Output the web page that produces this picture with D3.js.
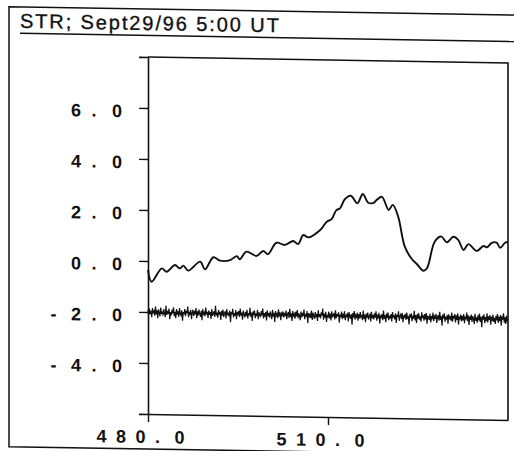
<!DOCTYPE html>
<html>
<head>
<meta charset="utf-8">
<script src="https://cdn.jsdelivr.net/npm/d3@7"></script>
<style>
body { margin: 0; background: #fff; }
text { font-family: "Liberation Sans", Arial, Helvetica, sans-serif; fill: #111; }
</style>
</head>
<body>
<script>
var titleText = "STR; Sept29/96 5:00 UT";

var xTicks = [480, 510];
var xTickLabels = ["480.0", "510.0"];
var yTicks = [-4, -2, 0, 2, 4, 6];
var yTickLabels = ["-4.0", "-2.0", "0.0", "2.0", "4.0", "6.0"];

// upper trace
var sigX = [480.0, 480.6, 482.3, 483.1, 484.5, 485.3, 485.9, 486.7, 488.7, 489.5,
            490.9, 492.0, 493.7, 494.8, 495.3, 496.4, 498.1, 499.2, 500.0, 501.4,
            502.8, 504.2, 505.0, 505.9, 506.7, 508.7, 509.8, 510.6, 511.4, 512.0,
            512.8, 513.8, 514.9, 515.8, 516.7, 517.6, 518.1, 519.0, 520.1, 520.8,
            521.7, 522.8, 524.0, 524.8, 525.9, 526.5, 527.8, 528.9, 529.8, 530.9,
            531.7, 532.6, 533.4, 534.8, 535.9, 536.5, 537.3, 538.1, 538.7, 539.5, 540.0];
var sigY = [-0.35, -0.81, -0.28, -0.41, -0.14, -0.27, -0.16, -0.35, 0.01, -0.29,
            0.19, 0.06, 0.09, 0.25, 0.13, 0.43, 0.27, 0.47, 0.35, 0.80,
            0.72, 0.88, 0.76, 1.12, 1.03, 1.33, 1.66, 1.76, 2.12, 2.19,
            2.55, 2.69, 2.40, 2.77, 2.43, 2.43, 2.54, 2.67, 2.16, 2.36,
            1.90, 0.73, 0.24, 0.06, -0.20, -0.10, 0.95, 1.15, 0.93, 1.15,
            1.03, 0.64, 0.87, 0.61, 0.81, 0.76, 0.94, 0.95, 0.75, 0.95, 0.98];

// lower noisy trace, sampled every 0.125 from 480
var noiseStart = 480, noiseStep = 0.125;
var noiseY = [
 -1.92,-2.11,-1.86,-2.08,-1.95,-2.20,-1.84,-2.05,-1.97,-2.14,-1.78,-2.09,-1.93,-2.24,-1.89,-2.03,-2.16,-1.82,-2.07,-1.96,
 -2.13,-1.88,-2.02,-2.19,-1.74,-2.10,-1.94,-2.06,-1.85,-2.27,-1.99,-2.12,-1.90,-2.04,-1.80,-2.15,-1.97,-2.22,-1.87,-2.08,
 -1.95,-2.17,-1.83,-2.05,-2.11,-1.91,-2.32,-1.98,-2.07,-1.86,-2.14,-1.93,-2.03,-1.76,-2.18,-1.96,-2.09,-1.89,-2.25,-2.00,
 -1.88,-2.12,-1.97,-2.06,-1.81,-2.21,-1.94,-2.10,-1.87,-2.04,-2.16,-1.92,-2.29,-1.85,-2.08,-1.99,-2.13,-1.79,-2.06,-1.95,
 -2.19,-1.90,-2.07,-1.96,-2.23,-1.84,-2.11,-2.01,-1.93,-2.15,-1.71,-2.09,-1.98,-2.18,-1.88,-2.05,-1.95,-2.26,-1.91,-2.10,
 -1.86,-2.14,-2.00,-1.92,-2.20,-1.83,-2.07,-1.97,-2.12,-1.89,-2.35,-1.95,-2.04,-1.82,-2.16,-1.99,-2.09,-1.87,-2.22,-1.94,
 -2.06,-1.90,-2.13,-1.80,-2.08,-1.96,-2.24,-1.88,-2.03,-2.15,-1.93,-2.10,-1.85,-2.19,-1.98,-2.07,-1.77,-2.12,-1.95,-2.28,
 -1.91,-2.05,-1.87,-2.17,-1.99,-2.09,-1.84,-2.21,-1.94,-2.02,-2.13,-1.89,-2.06,-1.79,-2.18,-1.97,-2.11,-1.92,-2.25,-1.86,
 -2.08,-1.96,-2.14,-1.90,-2.03,-2.20,-1.83,-2.10,-1.95,-2.31,-1.88,-2.06,-1.99,-2.16,-1.81,-2.09,-1.93,-2.23,-1.97,-2.04,
 -1.89,-2.12,-1.94,-2.07,-1.85,-2.19,-2.00,-1.91,-2.14,-1.78,-2.10,-1.96,-2.26,-1.87,-2.05,-1.98,-2.17,-1.90,-2.08,-1.83,
 -2.15,-1.95,-2.04,-2.22,-1.88,-2.11,-1.93,-2.06,-1.80,-2.18,-1.97,-2.09,-1.86,-2.33,-1.94,-2.07,-1.99,-2.13,-1.84,-2.20,
 -1.92,-2.05,-2.16,-1.89,-2.10,-1.96,-2.24,-1.82,-2.08,-1.97,-2.14,-1.90,-2.03,-1.75,-2.19,-1.95,-2.11,-1.88,-2.27,-1.99,
 -2.06,-1.87,-2.13,-1.94,-2.21,-1.85,-2.09,-2.01,-1.92,-2.17,-1.81,-2.12,-1.96,-2.05,-1.89,-2.29,-1.97,-2.08,-1.86,-2.15,
 -1.93,-2.10,-1.84,-2.19,-1.98,-2.07,-1.90,-2.24,-1.87,-2.04,-2.14,-1.95,-2.36,-1.91,-2.09,-1.83,-2.16,-1.99,-2.06,-1.89,
 -2.20,-1.94,-2.11,-1.86,-2.05,-1.97,-2.18,-1.80,-2.13,-1.96,-2.26,-1.92,-2.08,-1.88,-2.15,-2.01,-1.95,-2.22,-1.85,-2.10,
 -1.97,-2.14,-1.90,-2.07,-1.82,-2.19,-1.95,-2.10,-1.88,-2.30,-1.98,-2.05,-1.93,-2.17,-1.79,-2.12,-1.96,-2.24,-1.91,-2.08,
 -1.86,-2.16,-1.99,-2.09,-1.92,-2.21,-1.84,-2.06,-1.97,-2.13,-1.89,-2.27,-1.95,-2.03,-1.81,-2.18,-2.00,-1.93,-2.11,-1.87,
 -2.23,-1.96,-2.07,-1.90,-2.14,-1.85,-2.10,-1.98,-2.32,-1.92,-2.05,-1.88,-2.19,-1.97,-2.09,-1.78,-2.15,-1.94,-2.25,-1.91,
 -2.08,-1.87,-2.12,-1.99,-2.20,-1.83,-2.06,-1.95,-2.16,-1.90,-2.11,-1.86,-2.28,-1.96,-2.04,-2.13,-1.89,-2.22,-1.97,-2.10,
 -1.84,-2.17,-1.94,-2.08,-1.88,-2.24,-2.01,-1.93,-2.15,-1.80,-2.12,-1.97,-2.34,-1.91,-2.07,-1.86,-2.19,-1.99,-2.10,-1.92,
 -2.26,-1.89,-2.09,-1.96,-2.14,-1.82,-2.18,-1.95,-2.06,-1.88,-2.21,-1.93,-2.11,-1.85,-2.29,-1.98,-2.05,-1.90,-2.16,-1.94,
 -2.12,-1.87,-2.23,-1.97,-2.08,-1.81,-2.15,-1.92,-2.30,-1.96,-2.10,-1.89,-2.18,-1.95,-2.04,-2.25,-1.86,-2.13,-1.99,-2.20,
 -1.91,-2.11,-1.84,-2.17,-1.97,-2.38,-1.93,-2.08,-1.87,-2.22,-1.98,-2.14,-1.83,-2.19,-1.95,-2.09,-1.90,-2.27,-1.96,-2.12,
 -1.88,-2.16,-2.00,-2.24,-1.92,-2.10,-1.85,-2.20,-1.96,-2.13,-1.89,-2.31,-1.94,-2.07,-1.82,-2.18,-1.97,-2.23,-1.91,-2.11,-2.04
];

var width = 514, height = 451;
var plot = {left: 148, top: 57, right: 508, bottom: 414};

var svg = d3.select("body").append("svg")
    .attr("width", width)
    .attr("height", height);

// the scanned page is a little skewed, pivot on the y axis
var skew = 0.0167;
var g = svg.append("g")
    .attr("transform", "matrix(1," + skew + ",0,1,0," + (-skew * plot.left) + ")");

// outer box + title rule
g.append("path")
    .attr("d", "M540,9H9V449H540")
    .attr("fill", "none").attr("stroke", "#111").attr("stroke-width", 1.5);
g.append("line")
    .attr("x1", 20).attr("x2", 540).attr("y1", 35.5).attr("y2", 35.5)
    .attr("stroke", "#111").attr("stroke-width", 1.5);
g.append("text")
    .attr("x", 20).attr("y", 30)
    .attr("font-size", 20)
    .attr("letter-spacing", 1.9)
    .attr("stroke", "#111").attr("stroke-width", 0.35)
    .text(titleText);

var x = d3.scaleLinear().domain([480, 540]).range([plot.left, plot.right]);
var y = d3.scaleLinear().domain([-6, 8]).range([plot.bottom, plot.top]);

// top and right of the frame
g.append("path")
    .attr("d", "M" + x(480) + "," + y(8) + "H" + x(540) + "V" + y(-6))
    .attr("fill", "none").attr("stroke", "#111").attr("stroke-width", 1.6);

var yAxis = g.append("g")
    .attr("transform", "translate(" + plot.left + ",0)")
    .call(d3.axisLeft(y).tickValues(yTicks).tickSize(9).tickSizeOuter(9).tickFormat(""));

var xAxis = g.append("g")
    .attr("transform", "translate(0," + plot.bottom + ")")
    .call(d3.axisBottom(x).tickValues(xTicks).tickSize(8).tickSizeOuter(0).tickFormat(""));

g.selectAll(".domain").attr("stroke", "#111").attr("stroke-width", 1.6);
g.selectAll(".tick line").attr("stroke", "#111").attr("stroke-width", 1.4);

// tick labels: old plotter put every character on a fixed pitch
function pitched(sel, label, firstX, pitch) {
    sel.attr("text-anchor", "start")
        .attr("font-size", 18)
        .attr("font-weight", "bold")
        .attr("fill", "#111");
    sel.selectAll("tspan")
        .data(label.split(""))
        .join("tspan")
        .attr("x", function(c, j) { return firstX + j * pitch; })
        .text(function(c) { return c; });
}

yAxis.selectAll(".tick").each(function(d, i) {
    var lab = yTickLabels[i];
    var t = d3.select(this).append("text").attr("y", 9);
    pitched(t, lab, -36 - (lab.length - 1) * 20.5, 20.5);
});

xAxis.selectAll(".tick").each(function(d, i) {
    var t = d3.select(this).append("text").attr("y", 29);
    pitched(t, xTickLabels[i], -52, 19.5);
});

// traces
var sig = sigX.map(function(v, i) { return {x: v, y: sigY[i]}; });
var noise = noiseY.map(function(v, i) { return {x: noiseStart + i * noiseStep, y: v}; });

g.append("path")
    .datum(sig)
    .attr("fill", "none").attr("stroke", "#111").attr("stroke-width", 1.9)
    .attr("stroke-linejoin", "round")
    .attr("d", d3.line()
        .x(function(d) { return x(d.x); })
        .y(function(d) { return y(d.y); })
        .curve(d3.curveCatmullRom));

g.append("path")
    .datum(noise)
    .attr("fill", "none").attr("stroke", "#111").attr("stroke-width", 1.2)
    .attr("d", d3.line()
        .x(function(d) { return x(d.x); })
        .y(function(d) { return y(d.y); }));
</script>
</body>
</html>
